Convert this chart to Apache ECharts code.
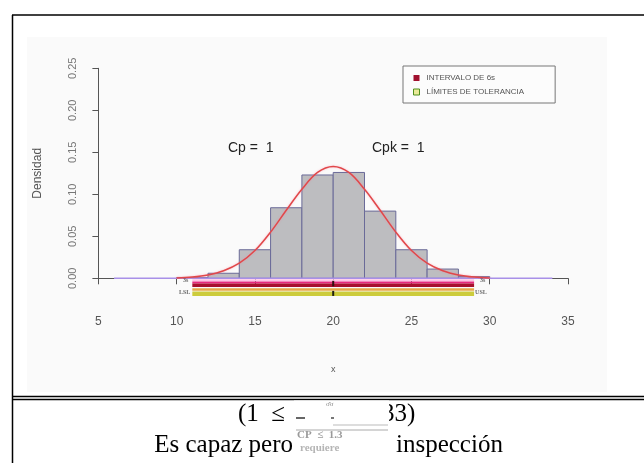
<!DOCTYPE html>
<html>
<head>
<meta charset="utf-8">
<script src="https://cdn.jsdelivr.net/npm/echarts@6/dist/echarts.min.js"></script>
<style>
html,body{margin:0;padding:0;background:#fff;}
#chart{width:644px;height:463px;}
</style>
</head>
<body>
<div id="chart"></div>
<script>
// ---- data ----
const binEdges = [10, 12, 14, 16, 18, 20, 22, 24, 26, 28, 30];
const binDensity = [0.001, 0.006, 0.034, 0.084, 0.123, 0.126, 0.080, 0.034, 0.011, 0.002];
const curveX = [10, 11, 12, 13, 14, 15, 16, 17, 18, 19, 20, 21, 22, 23, 24, 25, 26, 27, 28, 29, 30];
const curveY = [0.0005, 0.0015, 0.004, 0.009, 0.018, 0.033, 0.055, 0.081, 0.106, 0.126, 0.133, 0.126, 0.106, 0.081, 0.055, 0.033, 0.018, 0.009, 0.004, 0.0015, 0.0005];
const baselineX = [6, 34];
const sixSigmaInterval = [11, 29];
const toleranceLimits = [11, 29];
const processMean = 20;
const xTicks = [5, 10, 15, 20, 25, 30, 35];
const yTicks = [0, 0.05, 0.10, 0.15, 0.20, 0.25];
const capability = { Cp: 1, Cpk: 1 };
const legendNames = ['INTERVALO DE 6s', 'LÍMITES DE TOLERANCIA'];

// ---- build ----
const histData = binDensity.map((d, i) => [binEdges[i], binEdges[i + 1], d]);
const curveData = curveX.map((x, i) => [x, curveY[i]]);
const seg = (range, y) => [[range[0], y], [range[1], y]];

const chart = echarts.init(document.getElementById('chart'));
const sans = 'Liberation Sans, Arial, sans-serif';
const serif = 'Liberation Serif, Times New Roman, serif';

function band(name, range, y, color, width, z) {
  return {
    type: 'line', name: name, data: seg(range, y), clip: false, silent: true,
    symbol: 'none', lineStyle: { color: color, width: width, cap: 'butt' },
    itemStyle: { color: color }, z: z, animation: false
  };
}

chart.setOption({
  animation: false,
  backgroundColor: '#ffffff',
  grid: { left: 98.4, right: 76, top: 68.3, bottom: 184.7 },
  xAxis: {
    type: 'value', min: 5, max: 35, interval: 5, offset: 28.5,
    name: 'x', nameLocation: 'middle', nameGap: 58,
    nameTextStyle: { fontFamily: sans, fontSize: 9, color: '#555' },
    axisLine: { show: true, lineStyle: { color: '#555', width: 1 } },
    axisTick: { show: true, length: 6, lineStyle: { color: '#555' } },
    axisLabel: { fontFamily: sans, fontSize: 12, color: '#555', margin: 9,
      formatter: v => xTicks.includes(v) ? String(v) : '' },
    splitLine: { show: false }
  },
  yAxis: {
    type: 'value', min: 0, max: 0.25, interval: 0.05,
    name: 'Densidad', nameLocation: 'middle', nameGap: 55, nameRotate: 90,
    nameTextStyle: { fontFamily: sans, fontSize: 12, color: '#555' },
    axisLine: { show: true, lineStyle: { color: '#555', width: 1 } },
    axisTick: { show: true, length: 6, lineStyle: { color: '#555' } },
    axisLabel: { fontFamily: sans, fontSize: 11, color: '#777', rotate: 90, margin: 20,
      formatter: v => yTicks.some(t => Math.abs(t - v) < 1e-9) ? v.toFixed(2) : '' },
    splitLine: { show: false }
  },
  legend: {
    orient: 'vertical', left: 403, top: 66,
    itemWidth: 6, itemHeight: 6, itemGap: 6,
    padding: [8, 31, 7, 10],
    borderColor: '#777', borderWidth: 1, backgroundColor: '#fcfcfc',
    selectedMode: false,
    textStyle: { fontFamily: sans, fontSize: 8, color: '#555', padding: [0, 0, 0, 2] },
    data: [
      { name: legendNames[0], icon: 'rect', itemStyle: { color: '#a0102e', borderWidth: 0 } },
      { name: legendNames[1], icon: 'rect', itemStyle: { color: '#eaea98', borderColor: '#4f8f1f', borderWidth: 1 } }
    ]
  },
  graphic: {
    elements: [
      { type: 'rect', shape: { x: 27, y: 37, width: 580, height: 355 }, style: { fill: '#fafafa' }, z: -10, silent: true },
      { type: 'line', shape: { x1: 12.5, y1: 15, x2: 12.5, y2: 463 }, style: { stroke: '#000', lineWidth: 1.5 }, z: 50 },
      { type: 'line', shape: { x1: 12, y1: 15, x2: 644, y2: 15 }, style: { stroke: '#000', lineWidth: 1.5 }, z: 50 },
      { type: 'line', shape: { x1: 12, y1: 396.5, x2: 644, y2: 396.5 }, style: { stroke: '#000', lineWidth: 1.3 }, z: 50 },
      { type: 'line', shape: { x1: 12, y1: 399.5, x2: 644, y2: 399.5 }, style: { stroke: '#000', lineWidth: 1.3 }, z: 50 },
      { type: 'text', left: 228, top: 141, style: { text: 'Cp =  ' + capability.Cp, font: '14px ' + sans, fill: '#222' }, z: 50 },
      { type: 'text', left: 372, top: 141, style: { text: 'Cpk =  ' + capability.Cpk, font: '14px ' + sans, fill: '#222' }, z: 50 },
      // caption
      { type: 'text', left: 238, top: 402, style: { text: '(1  ≤', font: '25px ' + serif, fill: '#000' }, z: 50 },
      { type: 'text', left: 382, top: 402, style: { text: '33)', font: '25px ' + serif, fill: '#000' }, z: 50 },
      { type: 'rect', shape: { x: 294, y: 400.5, width: 95, height: 56 }, style: { fill: '#fff' }, z: 60 },
      { type: 'text', left: 326, top: 401, style: { text: 'σ̂σ', font: '7px ' + serif, fill: '#888' }, z: 61 },
      { type: 'line', shape: { x1: 296, y1: 418, x2: 305, y2: 418 }, style: { stroke: '#333', lineWidth: 1.5 }, z: 61 },
      { type: 'rect', shape: { x: 331, y: 417, width: 3, height: 2 }, style: { fill: '#777' }, z: 61 },
      { type: 'line', shape: { x1: 296, y1: 430, x2: 388, y2: 430 }, style: { stroke: '#aaa', lineWidth: 1 }, z: 61 },
      { type: 'line', shape: { x1: 333, y1: 425, x2: 388, y2: 425 }, style: { stroke: '#bbb', lineWidth: 1 }, z: 61 },
      { type: 'text', left: 297, top: 430, style: { text: 'CP  ≤  1.3', font: 'bold 11px ' + serif, fill: '#9a9a9a' }, z: 61 },
      { type: 'text', left: 300, top: 443, style: { text: 'requiere', font: 'bold 11px ' + serif, fill: '#b5b5b5' }, z: 61 },
      { type: 'text', right: 644 - 293, top: 433, style: { text: 'Es capaz pero', font: '25px ' + serif, fill: '#000', textAlign: 'right' }, z: 50 },
      { type: 'text', left: 396, top: 433, style: { text: 'inspección', font: '25px ' + serif, fill: '#000' }, z: 50 }
    ]
  },
  series: [
    {
      type: 'custom', name: 'hist', silent: true, z: 2,
      data: histData,
      encode: { x: [0, 1], y: 2 },
      renderItem: function (params, api) {
        const p0 = api.coord([api.value(0), api.value(2)]);
        const p1 = api.coord([api.value(1), 0]);
        return {
          type: 'rect',
          shape: { x: p0[0], y: p0[1], width: p1[0] - p0[0], height: p1[1] - p0[1] },
          style: { fill: '#bdbdc0', stroke: '#6a6a98', lineWidth: 1 }
        };
      }
    },
    {
      type: 'line', name: 'baseline', data: seg(baselineX, 0), symbol: 'none', silent: true,
      lineStyle: { color: '#a890e8', width: 1.5 }, z: 3
    },
    {
      type: 'line', name: 'densidad', data: curveData, symbol: 'none', smooth: 0.35, silent: true,
      lineStyle: { color: '#e0484a', width: 1.5, shadowColor: 'rgba(255,120,150,0.5)', shadowBlur: 2 }, z: 4
    },
    band('pinkband', sixSigmaInterval, -0.0023, '#ffc4e4', 2, 3),
    band('magentaband', sixSigmaInterval, -0.0049, '#e8287e', 2, 3),
    band(legendNames[0], sixSigmaInterval, -0.0082, '#a8102e', 3.5, 3),
    band('orangeband', toleranceLimits, -0.0133, '#e8a848', 2.5, 3),
    band(legendNames[1], toleranceLimits, -0.0183, '#cccc3c', 4.5, 3),
    {
      type: 'line', name: 'meanmark1', data: [[processMean, -0.003], [processMean, -0.0095]], clip: false,
      symbol: 'none', silent: true, lineStyle: { color: '#301010', width: 2 }, z: 5
    },
    {
      type: 'line', name: 'meanmark2', data: [[processMean, -0.015], [processMean, -0.021]], clip: false,
      symbol: 'none', silent: true, lineStyle: { color: '#202010', width: 2 }, z: 5
    },
    {
      type: 'scatter', name: 'labels', clip: false, symbolSize: 0, silent: true, z: 6,
      data: [
        { value: [sixSigmaInterval[0], -0.003], label: { formatter: '3s', position: 'left', distance: 4 } },
        { value: [toleranceLimits[0], -0.0165], label: { formatter: 'LSL', position: 'left', distance: 2 } },
        { value: [sixSigmaInterval[1], -0.003], label: { formatter: '3s', position: 'right', distance: 6 } },
        { value: [toleranceLimits[1], -0.0165], label: { formatter: 'USL', position: 'right', distance: 1 } }
      ],
      label: { show: true, fontFamily: serif, fontSize: 6, fontWeight: 'bold', color: '#444' }
    }
  ]
});
</script>
</body>
</html>
